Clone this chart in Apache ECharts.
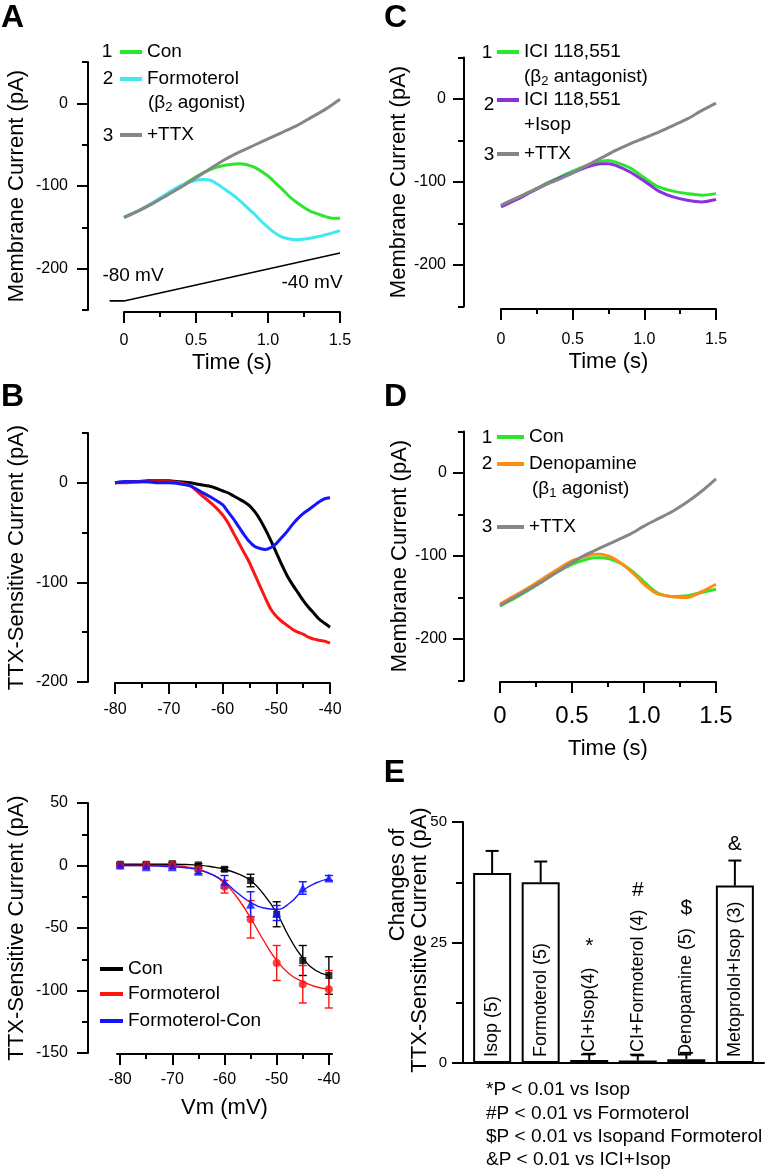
<!DOCTYPE html>
<html>
<head>
<meta charset="utf-8">
<script src="https://cdn.jsdelivr.net/npm/echarts@6.0.0/dist/echarts.min.js"></script>
<style>
html,body{margin:0;padding:0;background:#ffffff;}
#chart{width:768px;height:1172px;}
</style>
</head>
<body>
<div id="chart"></div>
<script>
// ================= DATA =================
// Panel A : membrane current (pA) vs time (s)
const A_con  = [[0,-138],[0.1,-130],[0.2,-121],[0.3,-110],[0.4,-100],[0.5,-89],[0.6,-80],[0.7,-75],[0.8,-73],[0.9,-77],[1.0,-88],[1.05,-96],[1.1,-104],[1.15,-113],[1.2,-120],[1.25,-126],[1.3,-131],[1.35,-134],[1.4,-137],[1.45,-139],[1.5,-139]];
const A_form = [[0,-138],[0.1,-130],[0.2,-120],[0.3,-109],[0.4,-99],[0.5,-93],[0.55,-92],[0.6,-93],[0.65,-98],[0.7,-104],[0.75,-110],[0.8,-117],[0.85,-125],[0.9,-133],[0.95,-142],[1.0,-150],[1.05,-157],[1.1,-162],[1.15,-164],[1.2,-165],[1.3,-163],[1.4,-159],[1.5,-154]];
const A_ttx  = [[0,-138],[0.1,-130],[0.2,-121],[0.3,-111],[0.4,-101],[0.5,-90],[0.6,-79],[0.7,-68],[0.8,-59],[0.9,-51],[1.0,-43],[1.1,-35],[1.2,-27],[1.3,-17],[1.4,-7],[1.5,5]];
const A_ramp = [[-0.1,-239],[0,-239],[1.5,-181]];

// Panel C
const C_ici  = [[0,-128],[0.1,-120],[0.2,-112],[0.3,-103],[0.4,-95],[0.5,-87],[0.6,-80],[0.7,-75],[0.75,-74],[0.8,-76],[0.9,-83],[1.0,-95],[1.05,-101],[1.1,-106],[1.2,-111],[1.3,-114],[1.4,-116],[1.5,-114]];
const C_isop = [[0,-130],[0.1,-122],[0.2,-113],[0.3,-104],[0.4,-96],[0.5,-89],[0.6,-82],[0.7,-78],[0.75,-78],[0.8,-80],[0.9,-88],[1.0,-99],[1.05,-105],[1.1,-111],[1.2,-118],[1.3,-122],[1.4,-124],[1.5,-121]];
const C_ttx  = [[0,-128],[0.1,-120],[0.2,-112],[0.3,-104],[0.4,-97],[0.5,-89],[0.6,-80],[0.7,-71],[0.8,-62],[0.9,-54],[1.0,-47],[1.1,-40],[1.2,-32],[1.3,-24],[1.4,-14],[1.5,-5]];

// Panel D
const D_con  = [[0,-160],[0.1,-151],[0.2,-141],[0.3,-130],[0.4,-119],[0.5,-110],[0.6,-104],[0.65,-102],[0.7,-102],[0.75,-103],[0.8,-106],[0.85,-110],[0.9,-116],[0.95,-123],[1.0,-131],[1.05,-139],[1.1,-145],[1.2,-149],[1.3,-148],[1.4,-144],[1.5,-140]];
const D_deno = [[0,-158],[0.1,-148],[0.2,-138],[0.3,-127],[0.4,-116],[0.5,-106],[0.6,-100],[0.65,-98],[0.7,-98],[0.75,-100],[0.8,-104],[0.85,-110],[0.9,-117],[0.95,-125],[1.0,-134],[1.05,-141],[1.1,-146],[1.2,-149],[1.3,-150],[1.4,-143],[1.5,-134]];
const D_ttx  = [[0,-160],[0.1,-150],[0.2,-140],[0.3,-130],[0.4,-119],[0.5,-108],[0.6,-98],[0.7,-90],[0.8,-82],[0.9,-74],[1.0,-64],[1.1,-55],[1.2,-46],[1.3,-35],[1.4,-22],[1.5,-7]];

// Panel B : TTX-sensitive current (pA) vs Vm (mV)
const B_vm   = [-80,-78,-76,-74,-72,-70,-68,-66,-64,-62,-60,-59,-58,-57,-56,-55,-54,-53,-52,-51,-50,-49,-48,-47,-46,-45,-44,-43,-42,-41,-40];
const B_con  = [0,1,1,2,2,2,1,0,-2,-4,-8,-10,-13,-16,-19,-23,-29,-37,-47,-58,-70,-82,-93,-102,-110,-118,-125,-131,-137,-141,-145];
const B_form = [0,0,1,1,1,1,0,-3,-12,-21,-32,-40,-50,-60,-70,-80,-92,-104,-116,-127,-134,-139,-143,-147,-150,-152,-155,-157,-158,-159,-161];
const B_diff = [0,1,1,1,0,0,-1,-3,-9,-15,-22,-29,-36,-44,-52,-59,-64,-66,-67,-65,-61,-55,-49,-42,-36,-31,-27,-23,-19,-16,-15];

// Bottom-left summary I-V
const IV_vm       = [-80,-75,-70,-65,-60,-55,-50,-45,-40];
const IV_con      = [1,1,1.5,0.5,-3,-12,-39,-76,-88];
const IV_con_err  = [1,1,1,1,1.5,5,10,12,15];
const IV_form     = [0,0,0.5,-3,-17,-43,-78,-95,-99];
const IV_form_err = [1,1,1,1.5,5,15,14,15,15];
const IV_diff     = [0.5,-1,-1,-4.5,-13,-31,-38,-18,-10];
const IV_diff_err = [1,1.5,1.5,2,5,10,6,5,2];
const IV_fit_vm   = [-80,-77.5,-75,-72.5,-70,-67.5,-65,-62.5,-60,-57.5,-55,-52.5,-50,-47.5,-45,-42.5,-40];
const IV_fit_con  = [1,1,1,1,1,0.8,0.3,-1,-3,-6.5,-12,-23,-38,-58,-74,-84,-88];
const IV_fit_form = [0,0,0,0,-0.3,-1,-3,-7,-14,-26,-42,-60,-76,-87,-93,-97,-99];
const IV_fit_diff = [0,0,-0.2,-0.5,-1,-1.8,-3.5,-7,-13,-22,-29.5,-34,-35,-30,-20,-14,-10.5];

// Panel E : bar chart
const E_cats  = ['Isop (5)','Formoterol (5)','ICI+Isop(4)','ICI+Formoterol (4)','Denopamine (5)','Metoprolol+Isop (3)'];
const E_pos   = [1,2,3,4,5,6];
const E_vals  = [39.4,37.5,0.6,0.5,0.8,36.8];
const E_err   = [4.6,4.3,1.3,1.1,1.3,5.2];
const E_markPos  = [3,4,5,6];
const E_markText = ['*','#','$','&'];
const E_markY    = [24.2,35.9,32.2,45.4];
const E_notes = ['*P < 0.01 vs Isop','#P < 0.01 vs Formoterol','$P < 0.01 vs Isopand Formoterol','&P < 0.01 vs ICI+Isop'];

// Tick values / labels
const T_TICKS = [0,0.5,1.0,1.5];       const T_LABELS = ['0','0.5','1.0','1.5'];  const T_MINOR = [0.25,0.75,1.25];
const MC_TICKS = [-200,-100,0];        const MC_LABELS = ['-200','-100','0'];     const MC_MINOR = [-250,-150,-50,50];
const VM_TICKS = [-80,-70,-60,-50,-40]; const VM_LABELS = ['-80','-70','-60','-50','-40']; const VM_MINOR = [-75,-65,-55,-45];
const B_TICKS = [-200,-100,0];         const B_LABELS = ['-200','-100','0'];      const B_MINOR = [-150,-50,50];
const IV_TICKS = [-150,-100,-50,0,50]; const IV_LABELS = ['-150','-100','-50','0','50']; const IV_MINOR = [-125,-75,-25,25];
const E_TICKS = [0,25,50];             const E_LABELS = ['0','25','50'];          const E_MINOR = [12.5,37.5];

// ================= BUILD =================
const FF = "'Liberation Sans', Arial, Helvetica, sans-serif";
const K = '#000000';
const C_GREEN='#2ce62c', C_CYAN='#40e8f2', C_GRAY='#868686', C_PURPLE='#8a30e0', C_ORANGE='#ff8c14', C_RED='#ff1414', C_BLUE='#1414ff';

const grid=[], xAxis=[], yAxis=[], series=[], legend=[], graphic=[];

function addGrid(left, top, width, height){
  grid.push({left, top, width, height, containLabel:false, outerBoundsMode:'none'});
  return grid.length-1;
}
function addAxis(list, g, o){
  const major = o.major || [];
  const labels = o.labels || major.map(String);
  const fmt = v => { const i = major.findIndex(m => Math.abs(m - v) < 1e-6); return i >= 0 ? labels[i] : ''; };
  const base = {type:'value', gridIndex:g, min:o.min, max:o.max, position:o.position, offset:o.offset||0,
    splitLine:{show:false}, splitArea:{show:false}, minorTick:{show:false}, minorSplitLine:{show:false}, silent:true};
  if (o.hidden){
    list.push(Object.assign({}, base, {show:false, axisLine:{show:false, onZero:false}, axisTick:{show:false}, axisLabel:{show:false}}));
    return list.length-1;
  }
  list.push(Object.assign({}, base, {
    axisLine:{show:true, onZero:false, lineStyle:{color:K, width:2}},
    axisTick: major.length ? {show:true, inside:false, length:o.majorLen||11, customValues:major, lineStyle:{color:K, width:2}} : {show:false},
    axisLabel: major.length ? {show:true, customValues:major, formatter:fmt, margin:o.margin, fontSize:o.fontSize||16, fontFamily:FF, color:K} : {show:false},
    name:o.name||'', nameLocation:'middle', nameGap:o.nameGap||0,
    nameTextStyle:{fontSize:22, fontFamily:FF, color:K}
  }));
  const idx = list.length-1;
  if (o.minor && o.minor.length){
    list.push(Object.assign({}, base, {
      axisLine:{show:false, onZero:false},
      axisTick:{show:true, inside:false, length:o.minorLen||6, customValues:o.minor, lineStyle:{color:K, width:2}},
      axisLabel:{show:false}, name:''
    }));
  }
  return idx;
}
function lineS(name, data, xi, yi, color, width, z, extra){
  return Object.assign({type:'line', name, data, xAxisIndex:xi, yAxisIndex:yi, showSymbol:false, symbol:'none',
    smooth:0.25, color, itemStyle:{color}, lineStyle:{color, width}, z, silent:true, animation:false}, extra||{});
}
function addLegend(name, left, cy, w){
  legend.push({data:[name], left, top:cy-11, orient:'vertical', icon:'rect', itemWidth:w, itemHeight:4, padding:0, itemGap:0,
    selectedMode:false, formatter:n => n.split(':')[1], textStyle:{fontSize:19, fontFamily:FF, color:K, lineHeight:22}});
}
function gText(text, x, y, size, opts){
  opts = opts || {};
  graphic.push({type:'text', x, y, rotation:opts.rot||0, silent:true, z:100,
    style:Object.assign({text, fill:K, font:(opts.bold?'bold ':'')+size+'px '+FF,
      textAlign:opts.align||'left', textVerticalAlign:'middle', align:opts.align||'left', verticalAlign:'middle', lineHeight:opts.lh||size+3}, opts.style||{})});
}
function subText(pre, sub, post, x, y){
  graphic.push({type:'text', x, y, silent:true, z:100,
    style:{text:pre+'{s|'+sub+'}'+post, fill:K, font:'19px '+FF, lineHeight:22, textAlign:'left', textVerticalAlign:'middle', align:'left', verticalAlign:'middle',
      rich:{s:{fontSize:13, fontFamily:FF, fill:K, verticalAlign:'bottom', lineHeight:12}}}});
}
function errS(xs, ys, es, xi, yi, color, cap, lw, upOnly, z){
  return {type:'custom', xAxisIndex:xi, yAxisIndex:yi, silent:true, animation:false, z, clip:false,
    data: xs.map((x,i)=>[x, ys[i], es[i]]), encode:{x:0, y:1},
    renderItem(params, api){
      const x=api.value(0), y=api.value(1), e=api.value(2);
      const lo=api.coord([x, upOnly ? y : y-e]), hi=api.coord([x, y+e]);
      const st={stroke:color, lineWidth:lw};
      const ch=[{type:'line', shape:{x1:lo[0],y1:lo[1],x2:hi[0],y2:hi[1]}, style:st},
                {type:'line', shape:{x1:hi[0]-cap,y1:hi[1],x2:hi[0]+cap,y2:hi[1]}, style:st}];
      if(!upOnly) ch.push({type:'line', shape:{x1:lo[0]-cap,y1:lo[1],x2:lo[0]+cap,y2:lo[1]}, style:st});
      return {type:'group', children:ch};
    }};
}
const zip = (xs, ys) => xs.map((x,i)=>[x, ys[i]]);

// ---- Panel A ----
const gA = addGrid(124, 62, 216, 248);
const xA = addAxis(xAxis, gA, {min:0, max:1.5, position:'bottom', offset:2, major:T_TICKS, labels:T_LABELS, minor:T_MINOR, minorLen:5, margin:21, name:'Time (s)', nameGap:40});
const yA = addAxis(yAxis, gA, {min:-250, max:50, position:'left', offset:36, major:MC_TICKS, labels:MC_LABELS, minor:MC_MINOR, margin:20, name:'Membrane Current (pA)', nameGap:60});
series.push(lineS('A:Con', A_con, xA, yA, C_GREEN, 3, 2));
series.push(lineS('A:Formoterol', A_form, xA, yA, C_CYAN, 3, 3));
series.push(lineS('A:+TTX', A_ttx, xA, yA, C_GRAY, 3, 4));
// voltage-ramp schematic: hidden axes on a grid that reaches 0.1 s further left
const gA2 = addGrid(109.6, 62, 230.4, 248);
const xA2 = addAxis(xAxis, gA2, {min:-0.1, max:1.5, position:'bottom', hidden:true});
const yA2 = addAxis(yAxis, gA2, {min:-250, max:50, position:'left', hidden:true});
series.push(lineS('A:ramp', A_ramp, xA2, yA2, K, 1.6, 5, {smooth:false}));

// ---- Panel C ----
const gC = addGrid(501, 57.5, 215, 249);
const xC = addAxis(xAxis, gC, {min:0, max:1.5, position:'bottom', offset:2.5, major:T_TICKS, labels:T_LABELS, minor:T_MINOR, minorLen:5, margin:23, name:'Time (s)', nameGap:42});
const yC = addAxis(yAxis, gC, {min:-250, max:50, position:'left', offset:37, major:MC_TICKS, labels:MC_LABELS, minor:MC_MINOR, margin:18, name:'Membrane Current (pA)', nameGap:52});
series.push(lineS('C:ICI 118,551', C_ici, xC, yC, C_GREEN, 3, 2));
series.push(lineS('C:ICI 118,551 ', C_isop, xC, yC, C_PURPLE, 3, 3));
series.push(lineS('C:+TTX', C_ttx, xC, yC, C_GRAY, 3, 4));

// ---- Panel D ----
const gD = addGrid(500, 431.5, 216, 249);
const xD = addAxis(xAxis, gD, {min:0, max:1.5, position:'bottom', offset:1.5, major:T_TICKS, labels:T_LABELS, minor:T_MINOR, minorLen:5, margin:22, fontSize:24, name:'Time (s)', nameGap:56});
const yD = addAxis(yAxis, gD, {min:-250, max:50, position:'left', offset:36, major:MC_TICKS, labels:MC_LABELS, minor:MC_MINOR, margin:17, name:'Membrane Current (pA)', nameGap:52});
series.push(lineS('D:Con', D_con, xD, yD, C_GREEN, 3, 2));
series.push(lineS('D:Denopamine', D_deno, xD, yD, C_ORANGE, 3, 3));
series.push(lineS('D:+TTX', D_ttx, xD, yD, C_GRAY, 3, 4));

// ---- Panel B ----
const gB = addGrid(115, 433, 215, 249);
const xB = addAxis(xAxis, gB, {min:-80, max:-40, position:'bottom', offset:1, major:VM_TICKS, labels:VM_LABELS, minor:VM_MINOR, minorLen:5, margin:19});
const yB = addAxis(yAxis, gB, {min:-200, max:50, position:'left', offset:27, major:B_TICKS, labels:B_LABELS, minor:B_MINOR, margin:20, name:'TTX-Sensitive Current (pA)', nameGap:60});
series.push(lineS('B:con', zip(B_vm, B_con), xB, yB, K, 3, 2));
series.push(lineS('B:form', zip(B_vm, B_form), xB, yB, C_RED, 3, 3));
series.push(lineS('B:diff', zip(B_vm, B_diff), xB, yB, C_BLUE, 3, 4));

// ---- Bottom-left summary I-V ----
const gI = addGrid(117, 803, 215, 250);
const xI = addAxis(xAxis, gI, {min:-80.6, max:-39.4, position:'bottom', offset:1, major:VM_TICKS, labels:VM_LABELS, minor:VM_MINOR, minorLen:5, margin:18, name:'Vm (mV)', nameGap:43});
const yI = addAxis(yAxis, gI, {min:-150, max:50, position:'left', offset:29, major:IV_TICKS, labels:IV_LABELS, minor:IV_MINOR, margin:20, name:'TTX-Sensitive Current (pA)', nameGap:60});
series.push(lineS('I:Con', zip(IV_fit_vm, IV_fit_con), xI, yI, K, 1.4, 2, {smooth:true}));
series.push(lineS('I:Formoterol', zip(IV_fit_vm, IV_fit_form), xI, yI, C_RED, 1.4, 2, {smooth:true}));
series.push(lineS('I:Formoterol-Con', zip(IV_fit_vm, IV_fit_diff), xI, yI, C_BLUE, 1.4, 2, {smooth:true}));
series.push(errS(IV_vm, IV_con, IV_con_err, xI, yI, K, 4, 1.4, false, 3));
series.push(errS(IV_vm, IV_form, IV_form_err, xI, yI, C_RED, 4, 1.4, false, 3));
series.push(errS(IV_vm, IV_diff, IV_diff_err, xI, yI, C_BLUE, 4, 1.4, false, 3));
series.push({type:'scatter', xAxisIndex:xI, yAxisIndex:yI, data:zip(IV_vm, IV_con), symbol:'rect', symbolSize:7, itemStyle:{color:K}, z:4, silent:true, animation:false});
series.push({type:'scatter', xAxisIndex:xI, yAxisIndex:yI, data:zip(IV_vm, IV_form), symbol:'circle', symbolSize:8, itemStyle:{color:C_RED}, z:5, silent:true, animation:false});
series.push({type:'scatter', xAxisIndex:xI, yAxisIndex:yI, data:zip(IV_vm, IV_diff), symbol:'triangle', symbolSize:9, itemStyle:{color:C_BLUE}, z:6, silent:true, animation:false});

// ---- Panel E ----
const gE = addGrid(463, 822, 301, 241);
const xE = addAxis(xAxis, gE, {min:0.4, max:6.6, position:'bottom', offset:0, major:[]});
const yE = addAxis(yAxis, gE, {min:0, max:50, position:'left', offset:0, major:E_TICKS, labels:E_LABELS, minor:E_MINOR, minorLen:7, margin:16, fontSize:15});
series.push({type:'bar', xAxisIndex:xE, yAxisIndex:yE, data:zip(E_pos, E_vals), barWidth:38, silent:true, animation:false, z:2,
  itemStyle:{color:'#ffffff', borderColor:K, borderWidth:2},
  label:{show:true, position:'insideBottom', rotate:90, align:'left', verticalAlign:'middle', distance:6,
    formatter:p => E_cats[p.dataIndex], fontSize:18, fontFamily:FF, color:K}});
series.push(errS(E_pos, E_vals, E_err, xE, yE, K, 6.5, 2, true, 3));
series.push({type:'custom', xAxisIndex:xE, yAxisIndex:yE, silent:true, animation:false, z:5, clip:false,
  data:zip(E_markPos, E_markY), encode:{x:0, y:1},
  renderItem(params, api){
    const p = api.coord([api.value(0), api.value(1)]);
    return {type:'text', x:p[0], y:p[1], style:{text:E_markText[params.dataIndex], fill:K, font:'21px '+FF, textAlign:'center', textVerticalAlign:'middle', align:'center', verticalAlign:'middle'}};
  }});

// ---- Legends ----
addLegend('A:Con', 120, 52, 22);
addLegend('A:Formoterol', 120, 79, 22);
addLegend('A:+TTX', 120, 135, 22);
addLegend('C:ICI 118,551', 497, 52, 22);
addLegend('C:ICI 118,551 ', 497, 100, 22);
addLegend('C:+TTX', 497, 154, 22);
addLegend('D:Con', 497, 437, 27);
addLegend('D:Denopamine', 497, 464, 27);
addLegend('D:+TTX', 497, 527, 27);
addLegend('I:Con', 100, 969, 23);
addLegend('I:Formoterol', 100, 994, 23);
addLegend('I:Formoterol-Con', 100, 1021, 23);

// ---- Texts ----
gText('A', 12.5, 18.5, 32, {bold:true, align:'center'});
gText('C', 395.5, 18.5, 32, {bold:true, align:'center'});
gText('B', 12.5, 397, 32, {bold:true, align:'center'});
gText('D', 395.5, 397, 32, {bold:true, align:'center'});
gText('E', 394.5, 773, 32, {bold:true, align:'center'});
gText('1', 107, 52, 19, {align:'center'});
gText('2', 108, 79, 19, {align:'center'});
gText('3', 108, 136, 19, {align:'center'});
subText('(β', '2', ' agonist)', 148, 103);
gText('-80 mV', 133, 276, 19, {align:'center'});
gText('-40 mV', 312, 283, 19, {align:'center'});
gText('1', 487, 53, 19, {align:'center'});
gText('2', 489, 105, 19, {align:'center'});
gText('3', 489, 155, 19, {align:'center'});
subText('(β', '2', ' antagonist)', 524, 77);
gText('+Isop', 524, 125, 19);
gText('1', 487, 438, 19, {align:'center'});
gText('2', 487, 464, 19, {align:'center'});
gText('3', 487, 527, 19, {align:'center'});
subText('(β', '1', ' agonist)', 532, 489);
gText('Changes of', 398, 885, 22, {align:'center', rot:Math.PI/2});
gText('TTX-Sensitive Current (pA)', 420, 940, 22, {align:'center', rot:Math.PI/2});
E_notes.forEach((t,i) => gText(t, 486, 1090 + i*23.4, 19));

const chart = echarts.init(document.getElementById('chart'), null, {renderer:'canvas'});
chart.setOption({animation:false, backgroundColor:'#ffffff', textStyle:{fontFamily:FF}, grid, xAxis, yAxis, series, legend, graphic});
</script>
</body>
</html>
